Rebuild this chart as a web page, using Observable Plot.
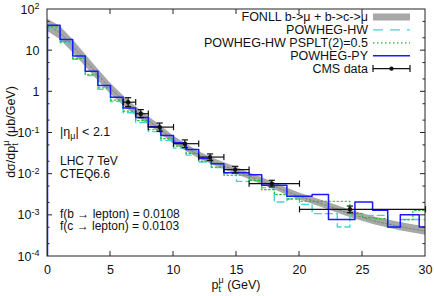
<!DOCTYPE html>
<html><head><meta charset="utf-8">
<script src="https://cdn.jsdelivr.net/npm/d3@7"></script>
<script src="https://cdn.jsdelivr.net/npm/@observablehq/plot@0.6"></script>
<style>
body{margin:0;background:#fff}
svg{font-family:"Liberation Sans",Arial,sans-serif}
</style>
</head><body><div id="chart"></div>
<script>
// ---- data ----
const hwEdges = [0,1,2,3,4,5,6,7,8,9,10,11,12,13,14,15,16,17,18,19,20,21,22,23,24,25,26,27,28,29,30];
const hwVals = [36,15.5,6.2,2.5,1.15,0.58,0.31,0.18,0.108,0.066,0.043,0.029,0.0197,0.0144,0.0103,0.0067,0.0073,0.0047,0.0021,0.0025,0.00185,0.0011,0.0011,0.00052,0.001,0.001,0.001,0.00052,0.00079,0.00079];
const psVals = [38,16.5,6.5,2.6,1.25,0.63,0.34,0.2,0.12,0.073,0.048,0.032,0.0208,0.0149,0.0094,0.0094,0.0071,0.0042,0.0032,0.0025,0.0022,0.0022,0.0022,0.0022,0.0011,0.00088,0.00083,0.00052,0.00079,0.00132];
const pyEdges = [0,1,2,3,4,5,6,7,8,9,10,11,12,13,14,15,16,17,18,19,21,22.3,24.4,25.8,27,28,29.5,30];
const pyVals = [41.7,18.7,7.4,3.15,1.43,0.74,0.405,0.238,0.142,0.0875,0.058,0.040,0.024,0.018,0.0109,0.0109,0.0097,0.0054,0.0054,0.0029,0.0032,0.00079,0.0021,0.00132,0.00052,0.00104,0.00052];

const fonllPt  = [0,1,2,3,4,5,6,7,8,9,10,11,12,13,14,15,16,17,18,19,20,22,24,26,28,30];
const fonllMid = [42,27,13,5.8,2.6,1.2,0.62,0.34,0.2,0.12,0.068,0.044,0.029,0.021,0.0158,0.0121,0.009,0.0068,0.0051,0.0038,0.0029,0.0018,0.0011,0.00072,0.00053,0.00041];
const fonllLo  = [29.7,18.7,9.0,4.1,1.88,0.89,0.47,0.264,0.159,0.095,0.055,0.0358,0.0239,0.0173,0.013,0.01,0.0074,0.0056,0.0042,0.0031,0.0024,0.00146,0.00089,0.00058,0.00042,0.00033];
const fonllHi  = [59,39,18.8,8.2,3.6,1.62,0.82,0.44,0.252,0.151,0.084,0.054,0.0353,0.0255,0.0192,0.0147,0.0109,0.0083,0.0062,0.0046,0.0035,0.00221,0.00135,0.0009,0.00067,0.00052];

const cmsPt   = [6.4,7.4,8.9,10.9,12.9,14.9,17.8,24.0];
const cmsPtLo = [6,7,8,10,12,14,16,20];
const cmsPtHi = [7,8,10,12,14,16,20,30];
const cmsVal  = [0.56,0.294,0.139,0.055,0.026,0.0129,0.0059,0.0014];
const cmsLo   = [0.44,0.235,0.11,0.044,0.0215,0.0107,0.0049,0.00116];
const cmsHi   = [0.72,0.37,0.175,0.068,0.031,0.0155,0.0071,0.00168];

const xTicks = [0,5,10,15,20,25,30];
const yTicks = [1e-4,1e-3,1e-2,1e-1,1,10,100];
const yTickLabels = ["10^-4","10^-3","10^-2","10^-1","1","10","10^2"];
const yMinor = [2e-4,5e-4,2e-3,5e-3,2e-2,5e-2,0.2,0.5,2,5,20,50];

const legendLabels = ["FONLL b->\u03bc + b->c->\u03bc","POWHEG-HW","POWHEG-HW PSPLT(2)=0.5","POWHEG-PY","CMS data"];

// ---- build tables ----
const hist = (edges, vals) => edges.map((e,i)=>({x:e, y: vals[Math.min(i, vals.length-1)]}));
const hwData = hist(hwEdges, hwVals);
const psData = hist(hwEdges, psVals);
const pyData = [{x:0, y:1e-6}, ...hist(pyEdges, pyVals)];
const fonll = fonllPt.map((x,i)=>({x, lo: fonllLo[i], hi: fonllHi[i], mid: fonllMid[i]}));
const cms = cmsPt.map((x,i)=>({x, xlo: cmsPtLo[i], xhi: cmsPtHi[i], y: cmsVal[i], ylo: cmsLo[i], yhi: cmsHi[i]}));

const vbar = {draw(ctx, size){const r=Math.sqrt(size)/2; ctx.moveTo(0,-r); ctx.lineTo(0,r);}};
const hbar = {draw(ctx, size){const r=Math.sqrt(size)/2; ctx.moveTo(-r,0); ctx.lineTo(r,0);}};

const BLUE = "#1a1aff", CYAN = "#44d4d4", GREEN = "#22bb22", GRAY = "#a8a8a8";

const plot = Plot.plot({
  width: 434, height: 296,
  marginLeft: 47, marginRight: 9, marginTop: 9, marginBottom: 40,
  style: {fontFamily: "Liberation Sans, Arial, sans-serif", fontSize: "12.5px", background: "#fff", color: "#111"},
  x: {domain: [0,30]},
  y: {type: "log", domain: [1e-4, 1e2]},
  marks: [
    Plot.areaY(fonll, {x: "x", y1: "lo", y2: "hi", fill: GRAY, clip: true}),
    Plot.line(fonll, {x: "x", y: "mid", stroke: "#777", strokeWidth: 0.8, strokeDasharray: "2,2", clip: true}),
    Plot.line(hwData, {x: "x", y: "y", curve: "step-after", stroke: CYAN, strokeWidth: 1.4, strokeDasharray: "7,4", clip: true}),
    Plot.line(psData, {x: "x", y: "y", curve: "step-after", stroke: GREEN, strokeWidth: 1.2, strokeDasharray: "1.5,2.5", clip: true}),
    Plot.line(pyData, {x: "x", y: "y", curve: "step-after", stroke: BLUE, strokeWidth: 1.5, clip: true}),
    Plot.link(cms, {x1: "xlo", x2: "xhi", y1: "y", y2: "y", stroke: "#111", strokeWidth: 1.2}),
    Plot.link(cms, {x1: "x", x2: "x", y1: "ylo", y2: "yhi", stroke: "#111", strokeWidth: 1.2}),
    Plot.dot(cms, {x: "xlo", y: "y", symbol: vbar, r: 3.5, stroke: "#111", strokeWidth: 1.2}),
    Plot.dot(cms, {x: "xhi", y: "y", symbol: vbar, r: 3.5, stroke: "#111", strokeWidth: 1.2}),
    Plot.dot(cms, {x: "x", y: "ylo", symbol: hbar, r: 3.5, stroke: "#111", strokeWidth: 1.2}),
    Plot.dot(cms, {x: "x", y: "yhi", symbol: hbar, r: 3.5, stroke: "#111", strokeWidth: 1.2}),
    Plot.dot(cms, {x: "x", y: "y", r: 2.2, fill: "#111"}),
    Plot.axisX({ticks: xTicks, tickSize: 0, tickPadding: 9, label: null, tickFormat: d => String(d)}),
    Plot.axisY({ticks: yTicks, tickSize: 0, tickPadding: 8, label: null, tickFormat: d => yTickLabels[yTicks.indexOf(d)]})
  ]
});

document.getElementById("chart").appendChild(plot);
const svg = d3.select(plot);
const sx = plot.scale("x"), sy = plot.scale("y");
const X = v => sx.apply(v), Y = v => sy.apply(v);
const x0 = X(0), x1 = X(30), y0 = Y(1e-4), y1 = Y(1e2);

// superscripts on y tick labels
svg.selectAll('g[aria-label="y-axis tick label"] text').each(function(){
  const t = d3.select(this); const s = t.text();
  if (s.includes("^")) {
    const [b, e] = s.split("^");
    t.text(null);
    t.append("tspan").text(b);
    t.append("tspan").attr("dy", "-0.5em").attr("font-size", "9px").text(e);
  }
});

// frame and inward ticks
const g = svg.append("g").attr("stroke", "#222").attr("fill", "none");
g.append("rect").attr("x", x0).attr("y", y1).attr("width", x1-x0).attr("height", y0-y1).attr("stroke-width", 1);
const M = 5, m = 2.5;
xTicks.slice(1,-1).forEach(v => {
  g.append("line").attr("x1", X(v)).attr("x2", X(v)).attr("y1", y0).attr("y2", y0-M);
  g.append("line").attr("x1", X(v)).attr("x2", X(v)).attr("y1", y1).attr("y2", y1+M);
});
yTicks.slice(1,-1).forEach(v => {
  g.append("line").attr("x1", x0).attr("x2", x0+M).attr("y1", Y(v)).attr("y2", Y(v));
  g.append("line").attr("x1", x1).attr("x2", x1-M).attr("y1", Y(v)).attr("y2", Y(v));
});
yMinor.forEach(v => {
  g.append("line").attr("x1", x0).attr("x2", x0+m).attr("y1", Y(v)).attr("y2", Y(v));
  g.append("line").attr("x1", x1).attr("x2", x1-m).attr("y1", Y(v)).attr("y2", Y(v));
});

// text annotations
const T = svg.append("g").attr("font-size", "12.5px").attr("fill", "#111").attr("text-anchor", "start");
// axis titles
const xl = T.append("text").attr("x", 236).attr("y", 289).attr("text-anchor", "middle");
xl.append("tspan").text("p");
xl.append("tspan").attr("font-size", "9px").attr("dy", "3").text("t");
xl.append("tspan").attr("font-size", "9px").attr("dx", "-2.5").attr("dy", "-9").text("\u03bc");
xl.append("tspan").attr("dy", "6").text(" (GeV)");

const yl = T.append("text").attr("transform", "translate(15,132) rotate(-90)").attr("text-anchor", "middle");
yl.append("tspan").text("d\u03c3/dp");
yl.append("tspan").attr("font-size", "9px").attr("dy", "3").text("t");
yl.append("tspan").attr("font-size", "9px").attr("dx", "-2.5").attr("dy", "-9").text("\u03bc");
yl.append("tspan").attr("dy", "6").text(" (\u03bcb/GeV)");

// |eta_mu| < 2.1
const eta = T.append("text").attr("x", 60).attr("y", 136);
eta.append("tspan").text("|\u03b7");
eta.append("tspan").attr("font-size", "9px").attr("dy", "3").text("\u03bc");
eta.append("tspan").attr("dy", "-3").text("| < 2.1");
const A = T.append("g").attr("font-size", "12px");
A.append("text").attr("x", 60).attr("y", 165).text("LHC 7 TeV");
A.append("text").attr("x", 60).attr("y", 177.5).text("CTEQ6.6");
A.append("text").attr("x", 60).attr("y", 217.5).text("f(b \u2192 lepton) = 0.0108");
A.append("text").attr("x", 60).attr("y", 230).text("f(c \u2192 lepton) = 0.0103");

// legend
const L = svg.append("g").attr("font-size", "12.5px");
const lx = 368, sx0 = 373, sx1 = 410, ly0 = 21, ldy = 12.9;
legendLabels.forEach((lab, i) => {
  L.append("text").attr("x", lx).attr("y", ly0 + i*ldy).attr("text-anchor", "end").attr("fill", "#111").text(lab);
});
const cy = i => ly0 + i*ldy - 4;
L.append("rect").attr("x", sx0).attr("y", cy(0)-3.5).attr("width", sx1-sx0).attr("height", 7).attr("fill", GRAY);
L.append("line").attr("x1", sx0).attr("x2", sx1).attr("y1", cy(1)).attr("y2", cy(1)).attr("stroke", CYAN).attr("stroke-width", 1.4).attr("stroke-dasharray", "10,7");
L.append("line").attr("x1", sx0).attr("x2", sx1).attr("y1", cy(2)).attr("y2", cy(2)).attr("stroke", GREEN).attr("stroke-width", 1.2).attr("stroke-dasharray", "1.5,2.5");
L.append("line").attr("x1", sx0).attr("x2", sx1).attr("y1", cy(3)).attr("y2", cy(3)).attr("stroke", BLUE).attr("stroke-width", 1.5);
L.append("line").attr("x1", sx0).attr("x2", sx1).attr("y1", cy(4)).attr("y2", cy(4)).attr("stroke", "#111").attr("stroke-width", 1.2);
[sx0, sx1].forEach(v => L.append("line").attr("x1", v).attr("x2", v).attr("y1", cy(4)-3.5).attr("y2", cy(4)+3.5).attr("stroke", "#111").attr("stroke-width", 1.2));
L.append("circle").attr("cx", (sx0+sx1)/2).attr("cy", cy(4)).attr("r", 2.2).attr("fill", "#111");
</script>
</body></html>
